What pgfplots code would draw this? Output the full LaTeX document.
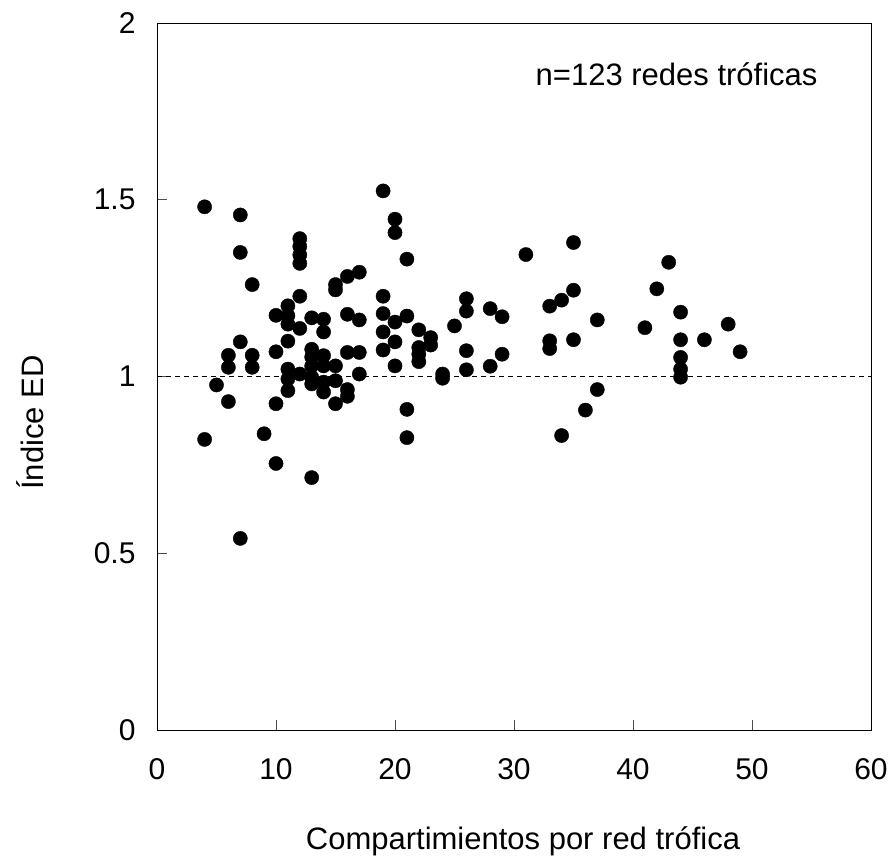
\documentclass[border=0pt]{standalone}
\usepackage{pgfplots}
\pgfplotsset{compat=1.18}
\usepackage{fontspec}
\setmainfont{Liberation Sans}
\begin{document}
\begin{tikzpicture}[x=1pt,y=1pt]
\path[use as bounding box] (-157,-137) rectangle (734,730);
\begin{axis}[
  at={(0,0)}, anchor=south west,
  scale only axis, width=714pt, height=707pt,
  xmin=0, xmax=60, ymin=0, ymax=2,
  xtick={0,10,...,60}, ytick={0,0.5,1,1.5,2},
  yticklabels={0,0.5,1,1.5,2},
  xtick pos=left, ytick pos=left,
  tick align=inside,
  major tick length=10pt,
  tick style={black!70, line width=0.8pt},
  axis line style={black, line width=0.9pt},
  /pgf/number format/assume math mode=true,
  ticklabel style={font=\fontsize{30}{36}\selectfont},
  yticklabel style={xshift=-18pt},
  xticklabel style={yshift=-25pt},
  label style={font=\fontsize{31}{37}\selectfont},
  xlabel={Compartimientos por red trófica},
  ylabel={Índice ED},
  xlabel style={at={(axis description cs:0.5126,-0.1697)}, anchor=base},
  ylabel style={at={(axis description cs:-0.178,0.435)}, anchor=center},
  clip=false,
]
\addplot[black, line width=1.8pt, dash pattern=on 5pt off 4pt] coordinates {(0,1) (60,1)};
\addplot[only marks, mark=*, mark size=7.1pt, black, mark options={fill=black}] table {
x y
4 1.480
4 0.822
5 0.976
6 1.060
6 1.026
6 0.929
7 1.457
7 1.351
7 1.098
7 0.542
8 1.260
8 1.060
8 1.026
9 0.838
10 1.173
10 1.070
10 0.923
10 0.754
11 1.200
11 1.172
11 1.148
11 1.100
11 1.021
11 0.993
11 0.960
12 1.390
12 1.368
12 1.344
12 1.320
12 1.227
12 1.136
12 1.007
13 1.166
13 1.077
13 1.055
13 1.030
13 0.998
13 0.979
13 0.714
14 1.162
14 1.126
14 1.059
14 1.030
14 0.984
14 0.956
15 1.260
15 1.245
15 1.030
15 0.988
15 0.923
16 1.283
16 1.176
16 1.068
16 0.963
16 0.944
17 1.295
17 1.160
17 1.068
17 1.007
19 1.525
19 1.227
19 1.178
19 1.126
19 1.075
20 1.445
20 1.407
20 1.154
20 1.098
20 1.030
21 1.332
21 1.171
21 0.907
21 0.827
22 1.132
22 1.082
22 1.063
22 1.042
23 1.110
23 1.089
24 1.007
24 0.995
25 1.143
26 1.220
26 1.185
26 1.073
26 1.019
28 1.192
28 1.029
29 1.169
29 1.063
31 1.345
33 1.199
33 1.101
33 1.079
34 1.216
34 0.833
35 1.379
35 1.244
35 1.104
36 0.905
37 1.160
37 0.963
41 1.138
42 1.248
43 1.323
44 1.182
44 1.104
44 1.054
44 1.021
44 0.998
46 1.104
48 1.148
49 1.070
};
\node[anchor=east, font=\fontsize{31}{37}\selectfont] at (axis cs:55.8,1.854) {n=123 redes tróficas};
\end{axis}
\end{tikzpicture}
\end{document}
